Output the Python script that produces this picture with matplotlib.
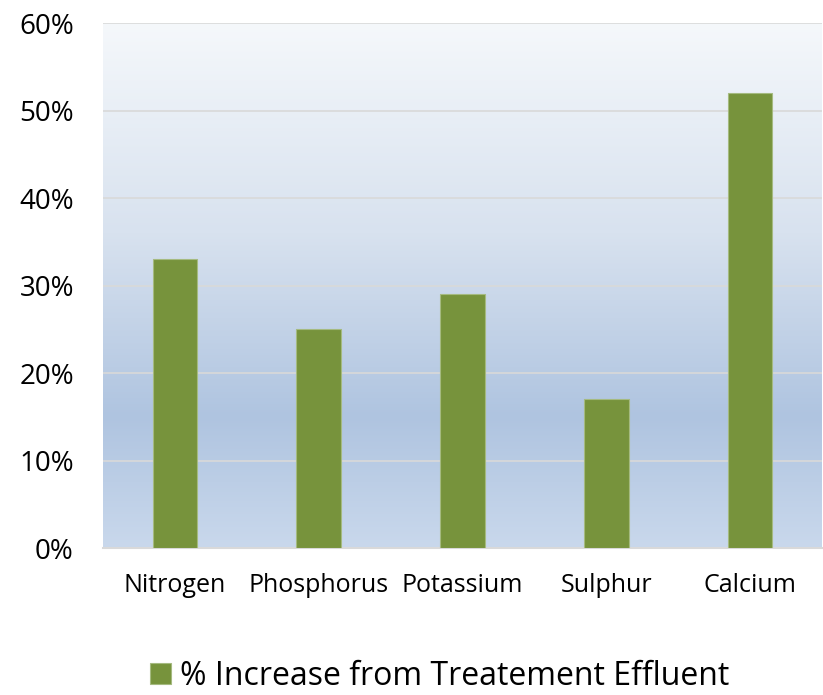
import numpy as np
import matplotlib.pyplot as plt
from matplotlib.colors import LinearSegmentedColormap
from matplotlib.ticker import PercentFormatter

categories = ["Nitrogen", "Phosphorus", "Potassium", "Sulphur", "Calcium"]
increase_pct = [33, 25, 29, 17, 52]
series_name = "% Increase from Treatement Effluent"

plt.rcParams['font.family'] = ['Open Sans', 'DejaVu Sans']

fig = plt.figure(figsize=(8.23, 6.95), dpi=100)
ax = fig.add_axes([0.1252, 0.2115, 0.8736, 0.7554])

# background gradient of the plot area (bottom -> top)
bg = LinearSegmentedColormap.from_list(
    "bg", [(0.0, "#C9D8EC"), (0.25, "#AFC4E0"), (0.6, "#D8E2EF"), (1.0, "#F5F8FB")])
grad = np.linspace(0, 1, 256).reshape(-1, 1)
x = np.arange(len(categories))
ax.imshow(grad, cmap=bg, origin="lower", aspect="auto",
          extent=[-0.5, len(categories) - 0.5, 0, 60], zorder=0)

ax.bar(x, increase_pct, width=0.31, color="#77933C", edgecolor="#A5BA80",
       linewidth=0.8, zorder=3, label=series_name)

ax.set_xlim(-0.5, len(categories) - 0.5)
ax.set_ylim(0, 60)
ax.set_yticks(np.arange(0, 61, 10))
ax.yaxis.set_major_formatter(PercentFormatter(decimals=0))
ax.set_xticks(x)
ax.set_xticklabels(categories, fontsize=18)
ax.tick_params(axis='y', labelsize=20, length=0, pad=21)
ax.tick_params(axis='x', length=0, pad=18)
ax.grid(axis='y', color="#D9D9D9", linewidth=1.2, zorder=1)
ax.set_axisbelow(False)
for s in ["top", "right", "left"]:
    ax.spines[s].set_visible(False)
ax.spines["bottom"].set_color("#D9D9D9")
ax.spines["bottom"].set_linewidth(1.5)

fig.legend(loc="center", bbox_to_anchor=(0.534, 0.027), frameon=False,
           fontsize=23, handlelength=0.66, handleheight=0.66, handletextpad=0.3,
           borderpad=0.1)

fig.savefig("out.png", dpi=100)
